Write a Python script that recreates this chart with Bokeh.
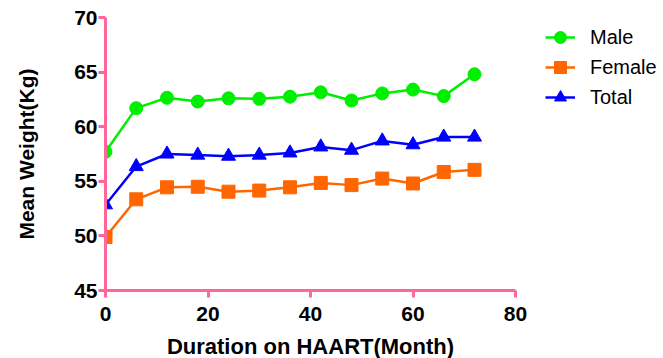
from bokeh.plotting import figure
from bokeh.models import Range1d, Legend, LegendItem, FixedTicker
from bokeh.embed import file_html
from bokeh.resources import INLINE

months = [0, 6, 12, 18, 24, 30, 36, 42, 48, 54, 60, 66, 72]
male = [57.7, 61.7, 62.65, 62.3, 62.6, 62.55, 62.75, 63.15, 62.4, 63.05, 63.4, 62.8, 64.8]
female = [49.9, 53.35, 54.45, 54.5, 54.05, 54.15, 54.45, 54.85, 54.65, 55.25, 54.8, 55.85, 56.05]
total = [52.85, 56.35, 57.5, 57.4, 57.3, 57.4, 57.6, 58.15, 57.85, 58.7, 58.35, 59.05, 59.05]
x_ticks = [0, 20, 40, 60, 80]
y_ticks = [45, 50, 55, 60, 65, 70]

PINK = "#FF679A"
GREEN = "#00EE00"
ORANGE = "#FF6600"
BLUE = "#0000FF"
FONT = "Liberation Sans"

p = figure(frame_width=410, frame_height=273, output_backend="svg", toolbar_location=None,
           x_range=Range1d(0, 80), y_range=Range1d(45, 70),
           min_border_left=105, min_border_right=148, min_border_top=17, min_border_bottom=68)
p.outline_line_color = None
p.grid.visible = False
p.background_fill_color = "white"

for ax in (p.xaxis[0], p.yaxis[0]):
    ax.axis_line_color = PINK
    ax.axis_line_width = 3
    ax.major_tick_line_color = PINK
    ax.major_tick_line_width = 3
    ax.major_tick_out = 7
    ax.major_tick_in = 0
    ax.minor_tick_line_color = None
    ax.major_label_text_font = FONT
    ax.major_label_text_font_style = "bold"
    ax.major_label_text_font_size = "21px"
    ax.major_label_text_color = "black"
    ax.axis_label_text_font = FONT
    ax.axis_label_text_font_style = "bold"
    ax.axis_label_text_font_size = "21px"
    ax.axis_label_text_color = "black"

p.xaxis.ticker = FixedTicker(ticks=x_ticks)
p.yaxis.ticker = FixedTicker(ticks=y_ticks)
p.xaxis.axis_label = "Duration on HAART(Month)"
p.yaxis.axis_label = "Mean Weight(Kg)"
p.xaxis.axis_label_text_font_size = "22px"
p.xaxis.major_label_standoff = 9
p.yaxis.major_label_standoff = 1
p.xaxis.axis_label_standoff = 10
p.yaxis.axis_label_standoff = 33

l1 = p.line(months, male, color=GREEN, line_width=2.5)
m1 = p.scatter(months, male, marker="circle", size=13, color=GREEN)
l2 = p.line(months, female, color=ORANGE, line_width=2.5)
m2 = p.scatter(months, female, marker="square", size=13, color=ORANGE)
l3 = p.line(months, total, color=BLUE, line_width=2.5)
m3 = p.scatter(months, total, marker="triangle", size=14, color=BLUE)

legend = Legend(items=[
    LegendItem(label="Male", renderers=[l1, m1]),
    LegendItem(label="Female", renderers=[l2, m2]),
    LegendItem(label="Total", renderers=[l3, m3]),
], location=(30, 178))
legend.border_line_color = None
legend.background_fill_alpha = 0
legend.label_text_font = FONT
legend.label_text_font_size = "20px"
legend.label_text_color = "black"
legend.glyph_width = 30
legend.glyph_height = 30
legend.label_height = 30
legend.spacing = 0
legend.padding = 10
legend.margin = 0
legend.label_standoff = 15
p.add_layout(legend, "right")

open("out.html", "w").write(file_html(p, INLINE))
